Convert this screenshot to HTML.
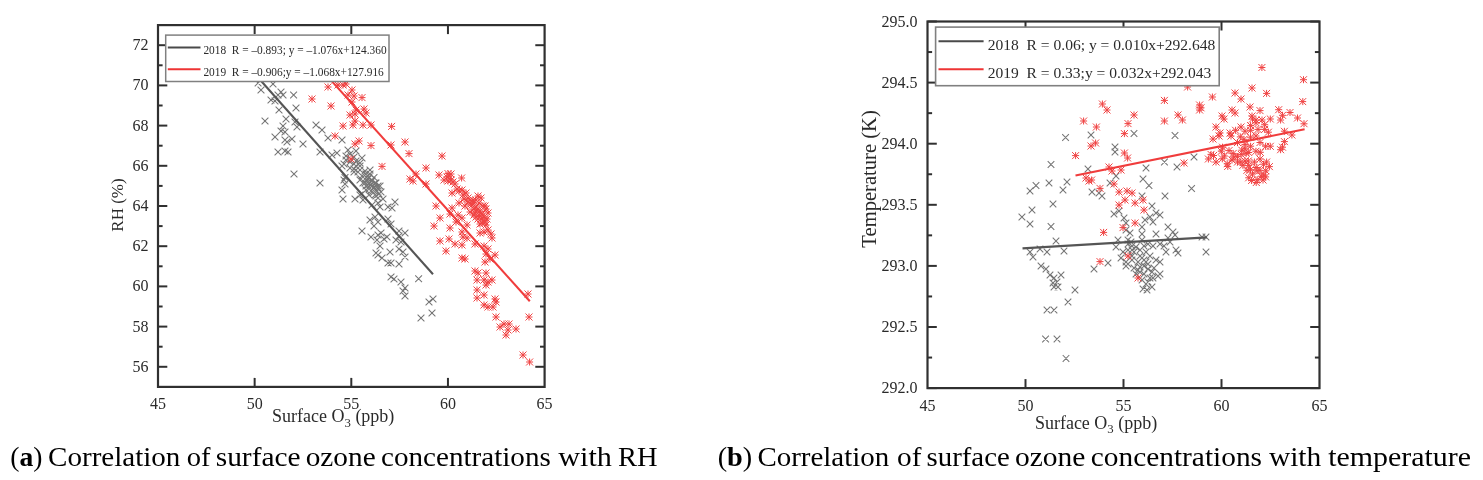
<!DOCTYPE html>
<html><head><meta charset="utf-8"><style>
html,body{margin:0;padding:0;background:#fff;width:1483px;height:480px;overflow:hidden}
svg{display:block;font-family:"Liberation Serif",serif;will-change:transform}
</style></head><body>
<svg width="1483" height="480" viewBox="0 0 1483 480">
<line x1="158" y1="366.80" x2="167.3" y2="366.80" stroke="#303030" stroke-width="2"/>
<line x1="544.6" y1="366.80" x2="535.3000000000001" y2="366.80" stroke="#303030" stroke-width="2"/>
<text x="148.4" y="371.70" text-anchor="end" font-size="16" fill="#2a2a2a">56</text>
<line x1="158" y1="346.70" x2="162.6" y2="346.70" stroke="#303030" stroke-width="2"/>
<line x1="544.6" y1="346.70" x2="540.0" y2="346.70" stroke="#303030" stroke-width="2"/>
<line x1="158" y1="326.60" x2="167.3" y2="326.60" stroke="#303030" stroke-width="2"/>
<line x1="544.6" y1="326.60" x2="535.3000000000001" y2="326.60" stroke="#303030" stroke-width="2"/>
<text x="148.4" y="331.50" text-anchor="end" font-size="16" fill="#2a2a2a">58</text>
<line x1="158" y1="306.50" x2="162.6" y2="306.50" stroke="#303030" stroke-width="2"/>
<line x1="544.6" y1="306.50" x2="540.0" y2="306.50" stroke="#303030" stroke-width="2"/>
<line x1="158" y1="286.40" x2="167.3" y2="286.40" stroke="#303030" stroke-width="2"/>
<line x1="544.6" y1="286.40" x2="535.3000000000001" y2="286.40" stroke="#303030" stroke-width="2"/>
<text x="148.4" y="291.30" text-anchor="end" font-size="16" fill="#2a2a2a">60</text>
<line x1="158" y1="266.30" x2="162.6" y2="266.30" stroke="#303030" stroke-width="2"/>
<line x1="544.6" y1="266.30" x2="540.0" y2="266.30" stroke="#303030" stroke-width="2"/>
<line x1="158" y1="246.20" x2="167.3" y2="246.20" stroke="#303030" stroke-width="2"/>
<line x1="544.6" y1="246.20" x2="535.3000000000001" y2="246.20" stroke="#303030" stroke-width="2"/>
<text x="148.4" y="251.10" text-anchor="end" font-size="16" fill="#2a2a2a">62</text>
<line x1="158" y1="226.10" x2="162.6" y2="226.10" stroke="#303030" stroke-width="2"/>
<line x1="544.6" y1="226.10" x2="540.0" y2="226.10" stroke="#303030" stroke-width="2"/>
<line x1="158" y1="206.00" x2="167.3" y2="206.00" stroke="#303030" stroke-width="2"/>
<line x1="544.6" y1="206.00" x2="535.3000000000001" y2="206.00" stroke="#303030" stroke-width="2"/>
<text x="148.4" y="210.90" text-anchor="end" font-size="16" fill="#2a2a2a">64</text>
<line x1="158" y1="185.90" x2="162.6" y2="185.90" stroke="#303030" stroke-width="2"/>
<line x1="544.6" y1="185.90" x2="540.0" y2="185.90" stroke="#303030" stroke-width="2"/>
<line x1="158" y1="165.80" x2="167.3" y2="165.80" stroke="#303030" stroke-width="2"/>
<line x1="544.6" y1="165.80" x2="535.3000000000001" y2="165.80" stroke="#303030" stroke-width="2"/>
<text x="148.4" y="170.70" text-anchor="end" font-size="16" fill="#2a2a2a">66</text>
<line x1="158" y1="145.70" x2="162.6" y2="145.70" stroke="#303030" stroke-width="2"/>
<line x1="544.6" y1="145.70" x2="540.0" y2="145.70" stroke="#303030" stroke-width="2"/>
<line x1="158" y1="125.60" x2="167.3" y2="125.60" stroke="#303030" stroke-width="2"/>
<line x1="544.6" y1="125.60" x2="535.3000000000001" y2="125.60" stroke="#303030" stroke-width="2"/>
<text x="148.4" y="130.50" text-anchor="end" font-size="16" fill="#2a2a2a">68</text>
<line x1="158" y1="105.50" x2="162.6" y2="105.50" stroke="#303030" stroke-width="2"/>
<line x1="544.6" y1="105.50" x2="540.0" y2="105.50" stroke="#303030" stroke-width="2"/>
<line x1="158" y1="85.40" x2="167.3" y2="85.40" stroke="#303030" stroke-width="2"/>
<line x1="544.6" y1="85.40" x2="535.3000000000001" y2="85.40" stroke="#303030" stroke-width="2"/>
<text x="148.4" y="90.30" text-anchor="end" font-size="16" fill="#2a2a2a">70</text>
<line x1="158" y1="65.30" x2="162.6" y2="65.30" stroke="#303030" stroke-width="2"/>
<line x1="544.6" y1="65.30" x2="540.0" y2="65.30" stroke="#303030" stroke-width="2"/>
<line x1="158" y1="45.20" x2="167.3" y2="45.20" stroke="#303030" stroke-width="2"/>
<line x1="544.6" y1="45.20" x2="535.3000000000001" y2="45.20" stroke="#303030" stroke-width="2"/>
<text x="148.4" y="50.10" text-anchor="end" font-size="16" fill="#2a2a2a">72</text>
<line x1="254.65" y1="386.9" x2="254.65" y2="377.9" stroke="#303030" stroke-width="2"/>
<line x1="254.65" y1="25.1" x2="254.65" y2="34.1" stroke="#303030" stroke-width="2"/>
<line x1="351.30" y1="386.9" x2="351.30" y2="377.9" stroke="#303030" stroke-width="2"/>
<line x1="351.30" y1="25.1" x2="351.30" y2="34.1" stroke="#303030" stroke-width="2"/>
<line x1="447.95" y1="386.9" x2="447.95" y2="377.9" stroke="#303030" stroke-width="2"/>
<line x1="447.95" y1="25.1" x2="447.95" y2="34.1" stroke="#303030" stroke-width="2"/>
<text x="158.00" y="408.8" text-anchor="middle" font-size="16" fill="#2a2a2a">45</text>
<text x="254.65" y="408.8" text-anchor="middle" font-size="16" fill="#2a2a2a">50</text>
<text x="351.30" y="408.5" text-anchor="middle" font-size="16" fill="#2a2a2a">55</text>
<text x="447.95" y="408.8" text-anchor="middle" font-size="16" fill="#2a2a2a">60</text>
<text x="544.60" y="408.8" text-anchor="middle" font-size="16" fill="#2a2a2a">65</text>
<rect x="158" y="25.1" width="386.6" height="361.79999999999995" fill="none" stroke="#303030" stroke-width="2.2"/>
<path d="M257.6 86.7L264.4 93.3M257.6 93.3L264.4 86.7M254.7 79.7L261.4 86.3M254.7 86.3L261.4 79.7M269.6 80.7L276.4 87.3M269.6 87.3L276.4 80.7M277.6 88.7L284.4 95.3M277.6 95.3L284.4 88.7M279.6 91.7L286.4 98.3M279.6 98.3L286.4 91.7M274.6 91.7L281.4 98.3M274.6 98.3L281.4 91.7M290.2 91.7L297.0 98.3M290.2 98.3L297.0 91.7M267.6 96.7L274.4 103.3M267.6 103.3L274.4 96.7M271.6 97.7L278.4 104.3M271.6 104.3L278.4 97.7M292.6 104.7L299.4 111.3M292.6 111.3L299.4 104.7M275.6 106.7L282.4 113.3M275.6 113.3L282.4 106.7M261.6 117.7L268.4 124.3M261.6 124.3L268.4 117.7M282.6 115.7L289.4 122.3M282.6 122.3L289.4 115.7M291.6 118.7L298.4 125.3M291.6 125.3L298.4 118.7M293.6 123.7L300.4 130.3M293.6 130.3L300.4 123.7M279.6 122.7L286.4 129.3M279.6 129.3L286.4 122.7M277.6 127.7L284.4 134.3M277.6 134.3L284.4 127.7M281.6 128.7L288.4 135.3M281.6 135.3L288.4 128.7M271.6 133.7L278.4 140.3M271.6 140.3L278.4 133.7M281.6 136.7L288.4 143.3M281.6 143.3L288.4 136.7M288.6 135.7L295.4 142.3M288.6 142.3L295.4 135.7M283.6 138.7L290.4 145.3M283.6 145.3L290.4 138.7M299.6 140.7L306.4 147.3M299.6 147.3L306.4 140.7M312.6 121.7L319.4 128.3M312.6 128.3L319.4 121.7M318.6 126.7L325.4 133.3M318.6 133.3L325.4 126.7M324.6 134.7L331.4 141.3M324.6 141.3L331.4 134.7M338.6 136.7L345.4 143.3M338.6 143.3L345.4 136.7M274.6 148.7L281.4 155.3M274.6 155.3L281.4 148.7M281.6 147.7L288.4 154.3M281.6 154.3L288.4 147.7M284.6 148.7L291.4 155.3M284.6 155.3L291.4 148.7M316.6 148.7L323.4 155.3M316.6 155.3L323.4 148.7M328.6 151.7L335.4 158.3M328.6 158.3L335.4 151.7M333.6 149.7L340.4 156.3M333.6 156.3L340.4 149.7M344.6 146.7L351.4 153.3M344.6 153.3L351.4 146.7M342.6 152.7L349.4 159.3M342.6 159.3L349.4 152.7M346.6 158.7L353.4 165.3M346.6 165.3L353.4 158.7M350.6 153.7L357.4 160.3M350.6 160.3L357.4 153.7M340.6 160.7L347.4 167.3M340.6 167.3L347.4 160.7M346.6 164.7L353.4 171.3M346.6 171.3L353.4 164.7M352.6 162.7L359.4 169.3M352.6 169.3L359.4 162.7M290.6 170.7L297.4 177.3M290.6 177.3L297.4 170.7M350.6 168.7L357.4 175.3M350.6 175.3L357.4 168.7M352.6 147.7L359.4 154.3M352.6 154.3L359.4 147.7M342.6 156.7L349.4 163.3M342.6 163.3L349.4 156.7M358.6 154.7L365.4 161.3M358.6 161.3L365.4 154.7M350.6 160.7L357.4 167.3M350.6 167.3L357.4 160.7M356.6 162.7L363.4 169.3M356.6 169.3L363.4 162.7M354.6 168.7L361.4 175.3M354.6 175.3L361.4 168.7M361.6 167.7L368.4 174.3M361.6 174.3L368.4 167.7M366.6 170.7L373.4 177.3M366.6 177.3L373.4 170.7M338.6 162.7L345.4 169.3M338.6 169.3L345.4 162.7M356.6 159.7L363.4 166.3M356.6 166.3L363.4 159.7M356.6 166.7L363.4 173.3M356.6 173.3L363.4 166.7M359.6 173.7L366.4 180.3M359.6 180.3L366.4 173.7M364.6 175.7L371.4 182.3M364.6 182.3L371.4 175.7M368.6 177.7L375.4 184.3M368.6 184.3L375.4 177.7M372.6 179.7L379.4 186.3M372.6 186.3L379.4 179.7M361.6 179.7L368.4 186.3M361.6 186.3L368.4 179.7M366.6 181.7L373.4 188.3M366.6 188.3L373.4 181.7M370.6 183.7L377.4 190.3M370.6 190.3L377.4 183.7M374.6 184.7L381.4 191.3M374.6 191.3L381.4 184.7M340.6 176.7L347.4 183.3M340.6 183.3L347.4 176.7M341.6 180.7L348.4 187.3M341.6 187.3L348.4 180.7M338.6 186.7L345.4 193.3M338.6 193.3L345.4 186.7M339.6 195.7L346.4 202.3M339.6 202.3L346.4 195.7M351.6 195.7L358.4 202.3M351.6 202.3L358.4 195.7M316.6 179.7L323.4 186.3M316.6 186.3L323.4 179.7M359.6 196.7L366.4 203.3M359.6 203.3L366.4 196.7M365.6 191.7L372.4 198.3M365.6 198.3L372.4 191.7M369.6 189.7L376.4 196.3M369.6 196.3L376.4 189.7M372.6 192.7L379.4 199.3M372.6 199.3L379.4 192.7M374.6 199.7L381.4 206.3M374.6 206.3L381.4 199.7M368.6 201.7L375.4 208.3M368.6 208.3L375.4 201.7M379.6 195.7L386.4 202.3M379.6 202.3L386.4 195.7M384.6 203.7L391.4 210.3M384.6 210.3L391.4 203.7M391.6 198.7L398.4 205.3M391.6 205.3L398.4 198.7M388.6 204.7L395.4 211.3M388.6 211.3L395.4 204.7M376.6 203.7L383.4 210.3M376.6 210.3L383.4 203.7M366.6 216.7L373.4 223.3M366.6 223.3L373.4 216.7M371.6 213.7L378.4 220.3M371.6 220.3L378.4 213.7M374.6 218.7L381.4 225.3M374.6 225.3L381.4 218.7M384.6 215.7L391.4 222.3M384.6 222.3L391.4 215.7M387.6 220.7L394.4 227.3M387.6 227.3L394.4 220.7M370.6 222.7L377.4 229.3M370.6 229.3L377.4 222.7M358.6 227.7L365.4 234.3M358.6 234.3L365.4 227.7M367.6 233.7L374.4 240.3M367.6 240.3L374.4 233.7M374.6 231.7L381.4 238.3M374.6 238.3L381.4 231.7M377.6 229.7L384.4 236.3M377.6 236.3L384.4 229.7M380.6 235.7L387.4 242.3M380.6 242.3L387.4 235.7M373.6 236.7L380.4 243.3M373.6 243.3L380.4 236.7M383.6 233.7L390.4 240.3M383.6 240.3L390.4 233.7M395.6 227.7L402.4 234.3M395.6 234.3L402.4 227.7M401.6 229.7L408.4 236.3M401.6 236.3L408.4 229.7M395.6 232.7L402.4 239.3M395.6 239.3L402.4 232.7M392.6 236.7L399.4 243.3M392.6 243.3L399.4 236.7M397.6 238.7L404.4 245.3M397.6 245.3L404.4 238.7M376.6 242.7L383.4 249.3M376.6 249.3L383.4 242.7M386.6 248.7L393.4 255.3M386.6 255.3L393.4 248.7M395.6 245.7L402.4 252.3M395.6 252.3L402.4 245.7M399.6 248.7L406.4 255.3M399.6 255.3L406.4 248.7M372.6 249.7L379.4 256.4M372.6 256.4L379.4 249.7M374.6 251.7L381.4 258.4M374.6 258.4L381.4 251.7M378.6 254.7L385.4 261.4M378.6 261.4L385.4 254.7M401.6 253.7L408.4 260.4M401.6 260.4L408.4 253.7M384.6 259.6L391.4 266.4M384.6 266.4L391.4 259.6M387.6 259.6L394.4 266.4M387.6 266.4L394.4 259.6M395.6 260.6L402.4 267.4M395.6 267.4L402.4 260.6M387.6 273.6L394.4 280.4M387.6 280.4L394.4 273.6M390.6 275.6L397.4 282.4M390.6 282.4L397.4 275.6M397.6 278.6L404.4 285.4M397.6 285.4L404.4 278.6M401.6 284.6L408.4 291.4M401.6 291.4L408.4 284.6M399.6 287.6L406.4 294.4M399.6 294.4L406.4 287.6M401.6 292.6L408.4 299.4M401.6 299.4L408.4 292.6M415.2 275.4L422.0 282.2M415.2 282.2L422.0 275.4M425.6 298.6L432.4 305.4M425.6 305.4L432.4 298.6M429.6 295.6L436.4 302.4M429.6 302.4L436.4 295.6M428.6 309.6L435.4 316.4M428.6 316.4L435.4 309.6M417.6 314.6L424.4 321.4M417.6 321.4L424.4 314.6M346.6 150.7L353.4 157.3M346.6 157.3L353.4 150.7M352.6 157.7L359.4 164.3M352.6 164.3L359.4 157.7M350.6 165.7L357.4 172.3M350.6 172.3L357.4 165.7M366.6 166.7L373.4 173.3M366.6 173.3L373.4 166.7M364.1 172.7L370.9 179.3M364.1 179.3L370.9 172.7M370.6 174.2L377.4 180.8M370.6 180.8L377.4 174.2M357.6 175.7L364.4 182.3M357.6 182.3L364.4 175.7M364.1 182.2L370.9 188.9M364.1 188.9L370.9 182.2M376.6 182.7L383.4 189.3M376.6 189.3L383.4 182.7M362.6 186.7L369.4 193.3M362.6 193.3L369.4 186.7M367.6 187.7L374.4 194.3M367.6 194.3L374.4 187.7M375.6 190.7L382.4 197.3M375.6 197.3L382.4 190.7M356.6 191.7L363.4 198.3M356.6 198.3L363.4 191.7M341.6 174.2L348.4 180.8M341.6 180.8L348.4 174.2M358.6 172.7L365.4 179.3M358.6 179.3L365.4 172.7M361.6 175.7L368.4 182.3M361.6 182.3L368.4 175.7M364.6 178.7L371.4 185.3M364.6 185.3L371.4 178.7M367.6 181.7L374.4 188.3M367.6 188.3L374.4 181.7M370.6 184.7L377.4 191.3M370.6 191.3L377.4 184.7M373.6 187.7L380.4 194.3M373.6 194.3L380.4 187.7M362.6 170.7L369.4 177.3M362.6 177.3L369.4 170.7M365.6 173.7L372.4 180.3M365.6 180.3L372.4 173.7M368.6 176.7L375.4 183.3M368.6 183.3L375.4 176.7M371.6 179.7L378.4 186.3M371.6 186.3L378.4 179.7M374.6 182.7L381.4 189.3M374.6 189.3L381.4 182.7M356.6 176.7L363.4 183.3M356.6 183.3L363.4 176.7M359.6 179.7L366.4 186.3M359.6 186.3L366.4 179.7M362.6 182.7L369.4 189.3M362.6 189.3L369.4 182.7M365.6 185.7L372.4 192.3M365.6 192.3L372.4 185.7M368.6 188.7L375.4 195.3M368.6 195.3L375.4 188.7M371.6 191.7L378.4 198.3M371.6 198.3L378.4 191.7M374.6 194.7L381.4 201.3M374.6 201.3L381.4 194.7M377.6 188.7L384.4 195.3M377.6 195.3L384.4 188.7M354.6 168.7L361.4 175.3M354.6 175.3L361.4 168.7" fill="none" stroke="#767676" stroke-width="1.05"/>
<path d="M308.5 95.5L315.5 102.5M308.5 102.5L315.5 95.5M308.5 99.0L315.5 99.0M312.0 95.5L312.0 102.5M327.5 102.5L334.5 109.5M327.5 109.5L334.5 102.5M327.5 106.0L334.5 106.0M331.0 102.5L331.0 109.5M324.5 83.5L331.5 90.5M324.5 90.5L331.5 83.5M324.5 87.0L331.5 87.0M328.0 83.5L328.0 90.5M334.5 81.5L341.5 88.5M334.5 88.5L341.5 81.5M334.5 85.0L341.5 85.0M338.0 81.5L338.0 88.5M339.5 81.5L346.5 88.5M339.5 88.5L346.5 81.5M339.5 85.0L346.5 85.0M343.0 81.5L343.0 88.5M348.5 86.5L355.5 93.5M348.5 93.5L355.5 86.5M348.5 90.0L355.5 90.0M352.0 86.5L352.0 93.5M344.5 91.5L351.5 98.5M344.5 98.5L351.5 91.5M344.5 95.0L351.5 95.0M348.0 91.5L348.0 98.5M350.5 92.5L357.5 99.5M350.5 99.5L357.5 92.5M350.5 96.0L357.5 96.0M354.0 92.5L354.0 99.5M346.5 111.5L353.5 118.5M346.5 118.5L353.5 111.5M346.5 115.0L353.5 115.0M350.0 111.5L350.0 118.5M351.5 110.5L358.5 117.5M351.5 117.5L358.5 110.5M351.5 114.0L358.5 114.0M355.0 110.5L355.0 117.5M339.5 122.5L346.5 129.5M339.5 129.5L346.5 122.5M339.5 126.0L346.5 126.0M343.0 122.5L343.0 129.5M349.5 121.5L356.5 128.5M349.5 128.5L356.5 121.5M349.5 125.0L356.5 125.0M353.0 121.5L353.0 128.5M351.5 117.5L358.5 124.5M351.5 124.5L358.5 117.5M351.5 121.0L358.5 121.0M355.0 117.5L355.0 124.5M331.5 132.5L338.5 139.5M331.5 139.5L338.5 132.5M331.5 136.0L338.5 136.0M335.0 132.5L335.0 139.5M351.5 140.5L358.5 147.5M351.5 147.5L358.5 140.5M351.5 144.0L358.5 144.0M355.0 140.5L355.0 147.5M347.5 155.5L354.5 162.5M347.5 162.5L354.5 155.5M347.5 159.0L354.5 159.0M351.0 155.5L351.0 162.5M342.5 80.5L349.5 87.5M342.5 87.5L349.5 80.5M342.5 84.0L349.5 84.0M346.0 80.5L346.0 87.5M358.5 94.1L365.5 101.1M358.5 101.1L365.5 94.1M358.5 97.6L365.5 97.6M362.0 94.1L362.0 101.1M348.5 98.5L355.5 105.5M348.5 105.5L355.5 98.5M348.5 102.0L355.5 102.0M352.0 98.5L352.0 105.5M360.5 105.5L367.5 112.5M360.5 112.5L367.5 105.5M360.5 109.0L367.5 109.0M364.0 105.5L364.0 112.5M362.5 109.5L369.5 116.5M362.5 116.5L369.5 109.5M362.5 113.0L369.5 113.0M366.0 109.5L366.0 116.5M352.5 106.5L359.5 113.5M352.5 113.5L359.5 106.5M352.5 110.0L359.5 110.0M356.0 106.5L356.0 113.5M359.5 121.5L366.5 128.5M359.5 128.5L366.5 121.5M359.5 125.0L366.5 125.0M363.0 121.5L363.0 128.5M367.5 121.5L374.5 128.5M367.5 128.5L374.5 121.5M367.5 125.0L374.5 125.0M371.0 121.5L371.0 128.5M388.1 122.9L395.1 129.9M388.1 129.9L395.1 122.9M388.1 126.4L395.1 126.4M391.6 122.9L391.6 129.9M355.5 137.5L362.5 144.5M355.5 144.5L362.5 137.5M355.5 141.0L362.5 141.0M359.0 137.5L359.0 144.5M367.5 142.1L374.5 149.1M367.5 149.1L374.5 142.1M367.5 145.6L374.5 145.6M371.0 142.1L371.0 149.1M387.5 141.5L394.5 148.5M387.5 148.5L394.5 141.5M387.5 145.0L394.5 145.0M391.0 141.5L391.0 148.5M401.5 138.5L408.5 145.5M401.5 145.5L408.5 138.5M401.5 142.0L408.5 142.0M405.0 138.5L405.0 145.5M405.5 150.1L412.5 157.1M405.5 157.1L412.5 150.1M405.5 153.6L412.5 153.6M409.0 150.1L409.0 157.1M438.5 152.5L445.5 159.5M438.5 159.5L445.5 152.5M438.5 156.0L445.5 156.0M442.0 152.5L442.0 159.5M378.5 162.9L385.5 169.9M378.5 169.9L385.5 162.9M378.5 166.4L385.5 166.4M382.0 162.9L382.0 169.9M422.5 164.5L429.5 171.5M422.5 171.5L429.5 164.5M422.5 168.0L429.5 168.0M426.0 164.5L426.0 171.5M412.5 170.5L419.5 177.5M412.5 177.5L419.5 170.5M412.5 174.0L419.5 174.0M416.0 170.5L416.0 177.5M435.5 171.5L442.5 178.5M435.5 178.5L442.5 171.5M435.5 175.0L442.5 175.0M439.0 171.5L439.0 178.5M444.5 170.1L451.5 177.1M444.5 177.1L451.5 170.1M444.5 173.6L451.5 173.6M448.0 170.1L448.0 177.1M422.5 180.5L429.5 187.5M422.5 187.5L429.5 180.5M422.5 184.0L429.5 184.0M426.0 180.5L426.0 187.5M445.5 172.5L452.5 179.5M445.5 179.5L452.5 172.5M445.5 176.0L452.5 176.0M449.0 172.5L449.0 179.5M447.5 176.5L454.5 183.5M447.5 183.5L454.5 176.5M447.5 180.0L454.5 180.0M451.0 176.5L451.0 183.5M444.5 177.5L451.5 184.5M444.5 184.5L451.5 177.5M444.5 181.0L451.5 181.0M448.0 177.5L448.0 184.5M449.5 178.5L456.5 185.5M449.5 185.5L456.5 178.5M449.5 182.0L456.5 182.0M453.0 178.5L453.0 185.5M458.1 174.5L465.1 181.5M458.1 181.5L465.1 174.5M458.1 178.0L465.1 178.0M461.6 174.5L461.6 181.5M453.5 185.5L460.5 192.5M453.5 192.5L460.5 185.5M453.5 189.0L460.5 189.0M457.0 185.5L457.0 192.5M455.5 187.5L462.5 194.5M455.5 194.5L462.5 187.5M455.5 191.0L462.5 191.0M459.0 187.5L459.0 194.5M448.5 189.5L455.5 196.5M448.5 196.5L455.5 189.5M448.5 193.0L455.5 193.0M452.0 189.5L452.0 196.5M459.5 191.5L466.5 198.5M459.5 198.5L466.5 191.5M459.5 195.0L466.5 195.0M463.0 191.5L463.0 198.5M460.5 195.5L467.5 202.5M460.5 202.5L467.5 195.5M460.5 199.0L467.5 199.0M464.0 195.5L464.0 202.5M455.5 199.5L462.5 206.5M455.5 206.5L462.5 199.5M455.5 203.0L462.5 203.0M459.0 199.5L459.0 206.5M464.5 198.5L471.5 205.5M464.5 205.5L471.5 198.5M464.5 202.0L471.5 202.0M468.0 198.5L468.0 205.5M467.5 200.5L474.5 207.5M467.5 207.5L474.5 200.5M467.5 204.0L474.5 204.0M471.0 200.5L471.0 207.5M468.5 197.5L475.5 204.5M468.5 204.5L475.5 197.5M468.5 201.0L475.5 201.0M472.0 197.5L472.0 204.5M461.5 202.5L468.5 209.5M461.5 209.5L468.5 202.5M461.5 206.0L468.5 206.0M465.0 202.5L465.0 209.5M470.5 205.5L477.5 212.5M470.5 212.5L477.5 205.5M470.5 209.0L477.5 209.0M474.0 205.5L474.0 212.5M473.5 206.5L480.5 213.5M473.5 213.5L480.5 206.5M473.5 210.0L480.5 210.0M477.0 206.5L477.0 213.5M471.5 209.5L478.5 216.5M471.5 216.5L478.5 209.5M471.5 213.0L478.5 213.0M475.0 209.5L475.0 216.5M475.5 211.5L482.5 218.5M475.5 218.5L482.5 211.5M475.5 215.0L482.5 215.0M479.0 211.5L479.0 218.5M472.5 213.5L479.5 220.5M472.5 220.5L479.5 213.5M472.5 217.0L479.5 217.0M476.0 213.5L476.0 220.5M477.5 215.5L484.5 222.5M477.5 222.5L484.5 215.5M477.5 219.0L484.5 219.0M481.0 215.5L481.0 222.5M480.5 213.5L487.5 220.5M480.5 220.5L487.5 213.5M480.5 217.0L487.5 217.0M484.0 213.5L484.0 220.5M481.5 202.5L488.5 209.5M481.5 209.5L488.5 202.5M481.5 206.0L488.5 206.0M485.0 202.5L485.0 209.5M483.5 215.5L490.5 222.5M483.5 222.5L490.5 215.5M483.5 219.0L490.5 219.0M487.0 215.5L487.0 222.5M478.5 219.5L485.5 226.5M478.5 226.5L485.5 219.5M478.5 223.0L485.5 223.0M482.0 219.5L482.0 226.5M482.5 221.5L489.5 228.5M482.5 228.5L489.5 221.5M482.5 225.0L489.5 225.0M486.0 221.5L486.0 228.5M484.5 226.5L491.5 233.5M484.5 233.5L491.5 226.5M484.5 230.0L491.5 230.0M488.0 226.5L488.0 233.5M480.5 228.5L487.5 235.5M480.5 235.5L487.5 228.5M480.5 232.0L487.5 232.0M484.0 228.5L484.0 235.5M487.5 230.5L494.5 237.5M487.5 237.5L494.5 230.5M487.5 234.0L494.5 234.0M491.0 230.5L491.0 237.5M432.5 202.5L439.5 209.5M432.5 209.5L439.5 202.5M432.5 206.0L439.5 206.0M436.0 202.5L436.0 209.5M436.5 214.5L443.5 221.5M436.5 221.5L443.5 214.5M436.5 218.0L443.5 218.0M440.0 214.5L440.0 221.5M430.5 222.5L437.5 229.5M430.5 229.5L437.5 222.5M430.5 226.0L437.5 226.0M434.0 222.5L434.0 229.5M446.5 224.5L453.5 231.5M446.5 231.5L453.5 224.5M446.5 228.0L453.5 228.0M450.0 224.5L450.0 231.5M448.5 204.5L455.5 211.5M448.5 211.5L455.5 204.5M448.5 208.0L455.5 208.0M452.0 204.5L452.0 211.5M454.5 211.5L461.5 218.5M454.5 218.5L461.5 211.5M454.5 215.0L461.5 215.0M458.0 211.5L458.0 218.5M458.5 214.5L465.5 221.5M458.5 221.5L465.5 214.5M458.5 218.0L465.5 218.0M462.0 214.5L462.0 221.5M463.5 221.5L470.5 228.5M463.5 228.5L470.5 221.5M463.5 225.0L470.5 225.0M467.0 221.5L467.0 228.5M458.5 228.5L465.5 235.5M458.5 235.5L465.5 228.5M458.5 232.0L465.5 232.0M462.0 228.5L462.0 235.5M452.5 218.5L459.5 225.5M452.5 225.5L459.5 218.5M452.5 222.0L459.5 222.0M456.0 218.5L456.0 225.5M446.5 210.5L453.5 217.5M446.5 217.5L453.5 210.5M446.5 214.0L453.5 214.0M450.0 210.5L450.0 217.5M436.5 237.5L443.5 244.5M436.5 244.5L443.5 237.5M436.5 241.0L443.5 241.0M440.0 237.5L440.0 244.5M445.5 235.5L452.5 242.5M445.5 242.5L452.5 235.5M445.5 239.0L452.5 239.0M449.0 235.5L449.0 242.5M451.5 240.5L458.5 247.5M451.5 247.5L458.5 240.5M451.5 244.0L458.5 244.0M455.0 240.5L455.0 247.5M442.5 247.5L449.5 254.5M442.5 254.5L449.5 247.5M442.5 251.0L449.5 251.0M446.0 247.5L446.0 254.5M458.5 241.5L465.5 248.5M458.5 248.5L465.5 241.5M458.5 245.0L465.5 245.0M462.0 241.5L462.0 248.5M459.5 233.5L466.5 240.5M459.5 240.5L466.5 233.5M459.5 237.0L466.5 237.0M463.0 233.5L463.0 240.5M463.5 234.5L470.5 241.5M463.5 241.5L470.5 234.5M463.5 238.0L470.5 238.0M467.0 234.5L467.0 241.5M476.5 229.5L483.5 236.5M476.5 236.5L483.5 229.5M476.5 233.0L483.5 233.0M480.0 229.5L480.0 236.5M488.5 234.5L495.5 241.5M488.5 241.5L495.5 234.5M488.5 238.0L495.5 238.0M492.0 234.5L492.0 241.5M471.5 240.5L478.5 247.5M471.5 247.5L478.5 240.5M471.5 244.0L478.5 244.0M475.0 240.5L475.0 247.5M480.5 242.5L487.5 249.5M480.5 249.5L487.5 242.5M480.5 246.0L487.5 246.0M484.0 242.5L484.0 249.5M484.5 245.5L491.5 252.5M484.5 252.5L491.5 245.5M484.5 249.0L491.5 249.0M488.0 245.5L488.0 252.5M482.5 250.5L489.5 257.5M482.5 257.5L489.5 250.5M482.5 254.0L489.5 254.0M486.0 250.5L486.0 257.5M491.5 251.5L498.5 258.5M491.5 258.5L498.5 251.5M491.5 255.0L498.5 255.0M495.0 251.5L495.0 258.5M486.5 255.5L493.5 262.5M486.5 262.5L493.5 255.5M486.5 259.0L493.5 259.0M490.0 255.5L490.0 262.5M481.5 258.5L488.5 265.5M481.5 265.5L488.5 258.5M481.5 262.0L488.5 262.0M485.0 258.5L485.0 265.5M458.5 254.5L465.5 261.5M458.5 261.5L465.5 254.5M458.5 258.0L465.5 258.0M462.0 254.5L462.0 261.5M461.5 255.5L468.5 262.5M461.5 262.5L468.5 255.5M461.5 259.0L468.5 259.0M465.0 255.5L465.0 262.5M471.5 267.5L478.5 274.5M471.5 274.5L478.5 267.5M471.5 271.0L478.5 271.0M475.0 267.5L475.0 274.5M474.5 269.5L481.5 276.5M474.5 276.5L481.5 269.5M474.5 273.0L481.5 273.0M478.0 269.5L478.0 276.5M482.5 269.5L489.5 276.5M482.5 276.5L489.5 269.5M482.5 273.0L489.5 273.0M486.0 269.5L486.0 276.5M473.5 276.5L480.5 283.5M473.5 283.5L480.5 276.5M473.5 280.0L480.5 280.0M477.0 276.5L477.0 283.5M480.5 276.5L487.5 283.5M480.5 283.5L487.5 276.5M480.5 280.0L487.5 280.0M484.0 276.5L484.0 283.5M484.5 278.5L491.5 285.5M484.5 285.5L491.5 278.5M484.5 282.0L491.5 282.0M488.0 278.5L488.0 285.5M488.5 276.5L495.5 283.5M488.5 283.5L495.5 276.5M488.5 280.0L495.5 280.0M492.0 276.5L492.0 283.5M482.5 281.5L489.5 288.5M482.5 288.5L489.5 281.5M482.5 285.0L489.5 285.0M486.0 281.5L486.0 288.5M473.5 286.5L480.5 293.5M473.5 293.5L480.5 286.5M473.5 290.0L480.5 290.0M477.0 286.5L477.0 293.5M480.5 291.5L487.5 298.5M480.5 298.5L487.5 291.5M480.5 295.0L487.5 295.0M484.0 291.5L484.0 298.5M473.5 294.5L480.5 301.5M473.5 301.5L480.5 294.5M473.5 298.0L480.5 298.0M477.0 294.5L477.0 301.5M491.5 295.5L498.5 302.5M491.5 302.5L498.5 295.5M491.5 299.0L498.5 299.0M495.0 295.5L495.0 302.5M492.5 298.5L499.5 305.5M492.5 305.5L499.5 298.5M492.5 302.0L499.5 302.0M496.0 298.5L496.0 305.5M480.5 301.5L487.5 308.5M480.5 308.5L487.5 301.5M480.5 305.0L487.5 305.0M484.0 301.5L484.0 308.5M484.5 303.5L491.5 310.5M484.5 310.5L491.5 303.5M484.5 307.0L491.5 307.0M488.0 303.5L488.0 310.5M489.5 303.5L496.5 310.5M489.5 310.5L496.5 303.5M489.5 307.0L496.5 307.0M493.0 303.5L493.0 310.5M492.5 313.5L499.5 320.5M492.5 320.5L499.5 313.5M492.5 317.0L499.5 317.0M496.0 313.5L496.0 320.5M500.5 320.5L507.5 327.5M500.5 327.5L507.5 320.5M500.5 324.0L507.5 324.0M504.0 320.5L504.0 327.5M505.5 320.5L512.5 327.5M505.5 327.5L512.5 320.5M505.5 324.0L512.5 324.0M509.0 320.5L509.0 327.5M524.5 290.5L531.5 297.5M524.5 297.5L531.5 290.5M524.5 294.0L531.5 294.0M528.0 290.5L528.0 297.5M525.5 313.5L532.5 320.5M525.5 320.5L532.5 313.5M525.5 317.0L532.5 317.0M529.0 313.5L529.0 320.5M496.5 323.5L503.5 330.5M496.5 330.5L503.5 323.5M496.5 327.0L503.5 327.0M500.0 323.5L500.0 330.5M504.5 326.5L511.5 333.5M504.5 333.5L511.5 326.5M504.5 330.0L511.5 330.0M508.0 326.5L508.0 333.5M502.5 331.5L509.5 338.5M502.5 338.5L509.5 331.5M502.5 335.0L509.5 335.0M506.0 331.5L506.0 338.5M512.5 325.5L519.5 332.5M512.5 332.5L519.5 325.5M512.5 329.0L519.5 329.0M516.0 325.5L516.0 332.5M519.5 351.5L526.5 358.5M519.5 358.5L526.5 351.5M519.5 355.0L526.5 355.0M523.0 351.5L523.0 358.5M526.1 358.5L533.1 365.5M526.1 365.5L533.1 358.5M526.1 362.0L533.1 362.0M529.6 358.5L529.6 365.5M409.5 177.5L416.5 184.5M409.5 184.5L416.5 177.5M409.5 181.0L416.5 181.0M413.0 177.5L413.0 184.5M406.5 175.5L413.5 182.5M406.5 182.5L413.5 175.5M406.5 179.0L413.5 179.0M410.0 175.5L410.0 182.5M468.5 201.5L475.5 208.5M468.5 208.5L475.5 201.5M468.5 205.0L475.5 205.0M472.0 201.5L472.0 208.5M472.5 203.5L479.5 210.5M472.5 210.5L479.5 203.5M472.5 207.0L479.5 207.0M476.0 203.5L476.0 210.5M476.5 207.5L483.5 214.5M476.5 214.5L483.5 207.5M476.5 211.0L483.5 211.0M480.0 207.5L480.0 214.5M470.5 211.5L477.5 218.5M470.5 218.5L477.5 211.5M470.5 215.0L477.5 215.0M474.0 211.5L474.0 218.5M474.5 215.5L481.5 222.5M474.5 222.5L481.5 215.5M474.5 219.0L481.5 219.0M478.0 215.5L478.0 222.5M478.5 210.5L485.5 217.5M478.5 217.5L485.5 210.5M478.5 214.0L485.5 214.0M482.0 210.5L482.0 217.5M466.5 208.5L473.5 215.5M466.5 215.5L473.5 208.5M466.5 212.0L473.5 212.0M470.0 208.5L470.0 215.5M481.5 218.5L488.5 225.5M481.5 225.5L488.5 218.5M481.5 222.0L488.5 222.0M485.0 218.5L485.0 225.5M476.5 220.5L483.5 227.5M476.5 227.5L483.5 220.5M476.5 224.0L483.5 224.0M480.0 220.5L480.0 227.5M464.5 194.5L471.5 201.5M464.5 201.5L471.5 194.5M464.5 198.0L471.5 198.0M468.0 194.5L468.0 201.5M469.5 196.5L476.5 203.5M469.5 203.5L476.5 196.5M469.5 200.0L476.5 200.0M473.0 196.5L473.0 203.5M443.5 173.5L450.5 180.5M443.5 180.5L450.5 173.5M443.5 177.0L450.5 177.0M447.0 173.5L447.0 180.5M447.5 170.5L454.5 177.5M447.5 177.5L454.5 170.5M447.5 174.0L454.5 174.0M451.0 170.5L451.0 177.5M451.5 180.5L458.5 187.5M451.5 187.5L458.5 180.5M451.5 184.0L458.5 184.0M455.0 180.5L455.0 187.5M440.5 176.5L447.5 183.5M440.5 183.5L447.5 176.5M440.5 180.0L447.5 180.0M444.0 176.5L444.0 183.5M458.5 186.5L465.5 193.5M458.5 193.5L465.5 186.5M458.5 190.0L465.5 190.0M462.0 186.5L462.0 193.5M462.5 189.5L469.5 196.5M462.5 196.5L469.5 189.5M462.5 193.0L469.5 193.0M466.0 189.5L466.0 196.5M472.5 196.5L479.5 203.5M472.5 203.5L479.5 196.5M472.5 200.0L479.5 200.0M476.0 196.5L476.0 203.5M475.5 199.5L482.5 206.5M475.5 206.5L482.5 199.5M475.5 203.0L482.5 203.0M479.0 199.5L479.0 206.5M479.5 202.5L486.5 209.5M479.5 209.5L486.5 202.5M479.5 206.0L486.5 206.0M483.0 202.5L483.0 209.5M482.5 205.5L489.5 212.5M482.5 212.5L489.5 205.5M482.5 209.0L489.5 209.0M486.0 205.5L486.0 212.5M477.5 194.5L484.5 201.5M477.5 201.5L484.5 194.5M477.5 198.0L484.5 198.0M481.0 194.5L481.0 201.5M484.5 209.5L491.5 216.5M484.5 216.5L491.5 209.5M484.5 213.0L491.5 213.0M488.0 209.5L488.0 216.5M480.5 213.5L487.5 220.5M480.5 220.5L487.5 213.5M480.5 217.0L487.5 217.0M484.0 213.5L484.0 220.5M474.5 192.5L481.5 199.5M474.5 199.5L481.5 192.5M474.5 196.0L481.5 196.0M478.0 192.5L478.0 199.5" fill="none" stroke="#f04444" stroke-width="1.0"/>
<line x1="255.8" y1="75.0" x2="433.0" y2="274.3" stroke="#555" stroke-width="2.1"/>
<line x1="326.8" y1="75.6" x2="529.8" y2="301.2" stroke="#f03c3c" stroke-width="2.1"/>
<rect x="165.7" y="35.1" width="223.3" height="46.4" fill="#fff" stroke="#808080" stroke-width="1.5"/>
<line x1="167.8" y1="47.5" x2="200.5" y2="47.5" stroke="#4a4a4a" stroke-width="2"/>
<line x1="167.8" y1="69.3" x2="200.5" y2="69.3" stroke="#ee3434" stroke-width="2"/>
<text x="203.4" y="54" font-size="12.3" fill="#2a2a2a" textLength="183.2" lengthAdjust="spacingAndGlyphs" xml:space="preserve">2018  R = –0.893; y = –1.076x+124.360</text>
<text x="203.4" y="75.8" font-size="12.3" fill="#2a2a2a" textLength="180.4" lengthAdjust="spacingAndGlyphs" xml:space="preserve">2019  R = –0.906;y = –1.068x+127.916</text>
<text x="272" y="422.4" font-size="18" fill="#2a2a2a">Surface O<tspan font-size="12.8" dy="4.4">3</tspan><tspan dy="-4.4"> (ppb)</tspan></text>
<text transform="translate(123.3,205) rotate(-90)" text-anchor="middle" font-size="17" fill="#2a2a2a">RH (%)</text>
<line x1="927.5" y1="388.10" x2="936.8" y2="388.10" stroke="#303030" stroke-width="2"/>
<line x1="1319.5" y1="388.10" x2="1310.2" y2="388.10" stroke="#303030" stroke-width="2"/>
<text x="917.6" y="393.20" text-anchor="end" font-size="16" fill="#2a2a2a">292.0</text>
<line x1="927.5" y1="357.55" x2="932.1" y2="357.55" stroke="#303030" stroke-width="2"/>
<line x1="1319.5" y1="357.55" x2="1314.9" y2="357.55" stroke="#303030" stroke-width="2"/>
<line x1="927.5" y1="327.00" x2="936.8" y2="327.00" stroke="#303030" stroke-width="2"/>
<line x1="1319.5" y1="327.00" x2="1310.2" y2="327.00" stroke="#303030" stroke-width="2"/>
<text x="917.6" y="332.10" text-anchor="end" font-size="16" fill="#2a2a2a">292.5</text>
<line x1="927.5" y1="296.45" x2="932.1" y2="296.45" stroke="#303030" stroke-width="2"/>
<line x1="1319.5" y1="296.45" x2="1314.9" y2="296.45" stroke="#303030" stroke-width="2"/>
<line x1="927.5" y1="265.90" x2="936.8" y2="265.90" stroke="#303030" stroke-width="2"/>
<line x1="1319.5" y1="265.90" x2="1310.2" y2="265.90" stroke="#303030" stroke-width="2"/>
<text x="917.6" y="271.00" text-anchor="end" font-size="16" fill="#2a2a2a">293.0</text>
<line x1="927.5" y1="235.35" x2="932.1" y2="235.35" stroke="#303030" stroke-width="2"/>
<line x1="1319.5" y1="235.35" x2="1314.9" y2="235.35" stroke="#303030" stroke-width="2"/>
<line x1="927.5" y1="204.80" x2="936.8" y2="204.80" stroke="#303030" stroke-width="2"/>
<line x1="1319.5" y1="204.80" x2="1310.2" y2="204.80" stroke="#303030" stroke-width="2"/>
<text x="917.6" y="209.90" text-anchor="end" font-size="16" fill="#2a2a2a">293.5</text>
<line x1="927.5" y1="174.25" x2="932.1" y2="174.25" stroke="#303030" stroke-width="2"/>
<line x1="1319.5" y1="174.25" x2="1314.9" y2="174.25" stroke="#303030" stroke-width="2"/>
<line x1="927.5" y1="143.70" x2="936.8" y2="143.70" stroke="#303030" stroke-width="2"/>
<line x1="1319.5" y1="143.70" x2="1310.2" y2="143.70" stroke="#303030" stroke-width="2"/>
<text x="917.6" y="148.80" text-anchor="end" font-size="16" fill="#2a2a2a">294.0</text>
<line x1="927.5" y1="113.15" x2="932.1" y2="113.15" stroke="#303030" stroke-width="2"/>
<line x1="1319.5" y1="113.15" x2="1314.9" y2="113.15" stroke="#303030" stroke-width="2"/>
<line x1="927.5" y1="82.60" x2="936.8" y2="82.60" stroke="#303030" stroke-width="2"/>
<line x1="1319.5" y1="82.60" x2="1310.2" y2="82.60" stroke="#303030" stroke-width="2"/>
<text x="917.6" y="87.70" text-anchor="end" font-size="16" fill="#2a2a2a">294.5</text>
<line x1="927.5" y1="52.05" x2="932.1" y2="52.05" stroke="#303030" stroke-width="2"/>
<line x1="1319.5" y1="52.05" x2="1314.9" y2="52.05" stroke="#303030" stroke-width="2"/>
<line x1="927.5" y1="21.50" x2="936.8" y2="21.50" stroke="#303030" stroke-width="2"/>
<line x1="1319.5" y1="21.50" x2="1310.2" y2="21.50" stroke="#303030" stroke-width="2"/>
<text x="917.6" y="26.60" text-anchor="end" font-size="16" fill="#2a2a2a">295.0</text>
<line x1="1025.50" y1="388.1" x2="1025.50" y2="379.1" stroke="#303030" stroke-width="2"/>
<line x1="1025.50" y1="21.5" x2="1025.50" y2="30.5" stroke="#303030" stroke-width="2"/>
<line x1="1123.50" y1="388.1" x2="1123.50" y2="379.1" stroke="#303030" stroke-width="2"/>
<line x1="1123.50" y1="21.5" x2="1123.50" y2="30.5" stroke="#303030" stroke-width="2"/>
<line x1="1221.50" y1="388.1" x2="1221.50" y2="379.1" stroke="#303030" stroke-width="2"/>
<line x1="1221.50" y1="21.5" x2="1221.50" y2="30.5" stroke="#303030" stroke-width="2"/>
<text x="927.50" y="410.9" text-anchor="middle" font-size="16" fill="#2a2a2a">45</text>
<text x="1025.50" y="410.9" text-anchor="middle" font-size="16" fill="#2a2a2a">50</text>
<text x="1123.50" y="410.9" text-anchor="middle" font-size="16" fill="#2a2a2a">55</text>
<text x="1221.50" y="410.9" text-anchor="middle" font-size="16" fill="#2a2a2a">60</text>
<text x="1319.50" y="410.9" text-anchor="middle" font-size="16" fill="#2a2a2a">65</text>
<rect x="927.5" y="21.5" width="392.0" height="366.6" fill="none" stroke="#303030" stroke-width="2.2"/>
<path d="M1062.2 134.2L1068.9 140.9M1062.2 140.9L1068.9 134.2M1087.7 131.7L1094.3 138.3M1087.7 138.3L1094.3 131.7M1111.7 143.7L1118.3 150.3M1111.7 150.3L1118.3 143.7M1111.7 148.7L1118.3 155.3M1111.7 155.3L1118.3 148.7M1130.7 130.2L1137.3 136.9M1130.7 136.9L1137.3 130.2M1047.7 161.1L1054.3 167.8M1047.7 167.8L1054.3 161.1M1084.7 165.7L1091.3 172.3M1084.7 172.3L1091.3 165.7M1112.7 172.7L1119.3 179.3M1112.7 179.3L1119.3 172.7M1063.7 178.7L1070.3 185.3M1063.7 185.3L1070.3 178.7M1045.7 179.7L1052.3 186.3M1045.7 186.3L1052.3 179.7M1032.7 182.2L1039.3 188.9M1032.7 188.9L1039.3 182.2M1106.7 179.7L1113.3 186.3M1106.7 186.3L1113.3 179.7M1171.7 132.2L1178.3 138.9M1171.7 138.9L1178.3 132.2M1190.7 153.7L1197.3 160.3M1190.7 160.3L1197.3 153.7M1161.1 158.7L1167.8 165.3M1161.1 165.3L1167.8 158.7M1142.7 164.7L1149.3 171.3M1142.7 171.3L1149.3 164.7M1173.7 163.7L1180.3 170.3M1173.7 170.3L1180.3 163.7M1139.7 175.7L1146.3 182.3M1139.7 182.3L1146.3 175.7M1145.7 182.2L1152.3 188.9M1145.7 188.9L1152.3 182.2M1026.7 187.7L1033.3 194.3M1026.7 194.3L1033.3 187.7M1059.7 186.7L1066.3 193.3M1059.7 193.3L1066.3 186.7M1088.7 188.7L1095.3 195.3M1088.7 195.3L1095.3 188.7M1095.7 189.7L1102.3 196.3M1095.7 196.3L1102.3 189.7M1098.7 192.7L1105.3 199.3M1098.7 199.3L1105.3 192.7M1049.7 200.7L1056.3 207.3M1049.7 207.3L1056.3 200.7M1028.7 206.7L1035.3 213.3M1028.7 213.3L1035.3 206.7M1018.6 213.7L1025.3 220.3M1018.6 220.3L1025.3 213.7M1026.7 220.7L1033.3 227.3M1026.7 227.3L1033.3 220.7M1047.7 223.1L1054.3 229.8M1047.7 229.8L1054.3 223.1M1110.7 210.7L1117.3 217.3M1110.7 217.3L1117.3 210.7M1115.7 207.7L1122.3 214.3M1115.7 214.3L1122.3 207.7M1120.7 214.7L1127.3 221.3M1120.7 221.3L1127.3 214.7M1122.7 219.7L1129.3 226.3M1122.7 226.3L1129.3 219.7M1052.7 237.7L1059.3 244.3M1052.7 244.3L1059.3 237.7M1036.7 245.7L1043.3 252.3M1036.7 252.3L1043.3 245.7M1043.7 248.7L1050.3 255.3M1043.7 255.3L1050.3 248.7M1060.7 247.7L1067.3 254.3M1060.7 254.3L1067.3 247.7M1026.7 248.7L1033.3 255.3M1026.7 255.3L1033.3 248.7M1029.7 253.7L1036.3 260.4M1029.7 260.4L1036.3 253.7M1037.7 262.6L1044.3 269.4M1037.7 269.4L1044.3 262.6M1042.7 265.6L1049.3 272.4M1042.7 272.4L1049.3 265.6M1090.7 265.6L1097.3 272.4M1090.7 272.4L1097.3 265.6M1104.7 259.6L1111.3 266.4M1104.7 266.4L1111.3 259.6M1114.7 236.7L1121.3 243.3M1114.7 243.3L1121.3 236.7M1112.7 243.7L1119.3 250.3M1112.7 250.3L1119.3 243.7M1117.7 254.7L1124.3 261.4M1117.7 261.4L1124.3 254.7M1046.7 271.6L1053.3 278.4M1046.7 278.4L1053.3 271.6M1057.7 271.6L1064.3 278.4M1057.7 278.4L1064.3 271.6M1122.7 226.7L1129.3 233.3M1122.7 233.3L1129.3 226.7M1126.7 229.7L1133.3 236.3M1126.7 236.3L1133.3 229.7M1124.7 236.7L1131.3 243.3M1124.7 243.3L1131.3 236.7M1128.7 242.7L1135.3 249.3M1128.7 249.3L1135.3 242.7M1130.7 248.7L1137.3 255.3M1130.7 255.3L1137.3 248.7M1124.7 260.6L1131.3 267.4M1124.7 267.4L1131.3 260.6M1161.7 192.7L1168.3 199.3M1161.7 199.3L1168.3 192.7M1188.2 185.1L1194.9 191.8M1188.2 191.8L1194.9 185.1M1138.7 192.7L1145.3 199.3M1138.7 199.3L1145.3 192.7M1148.7 202.7L1155.3 209.3M1148.7 209.3L1155.3 202.7M1152.7 209.7L1159.3 216.3M1152.7 216.3L1159.3 209.7M1156.7 211.7L1163.3 218.3M1156.7 218.3L1163.3 211.7M1146.7 213.7L1153.3 220.3M1146.7 220.3L1153.3 213.7M1149.7 218.7L1156.3 225.3M1149.7 225.3L1156.3 218.7M1141.7 216.7L1148.3 223.3M1141.7 223.3L1148.3 216.7M1138.7 223.7L1145.3 230.3M1138.7 230.3L1145.3 223.7M1138.7 230.7L1145.3 237.3M1138.7 237.3L1145.3 230.7M1152.7 230.7L1159.3 237.3M1152.7 237.3L1159.3 230.7M1164.7 223.7L1171.3 230.3M1164.7 230.3L1171.3 223.7M1169.7 228.7L1176.3 235.3M1169.7 235.3L1176.3 228.7M1171.7 231.7L1178.3 238.3M1171.7 238.3L1178.3 231.7M1164.7 234.7L1171.3 241.3M1164.7 241.3L1171.3 234.7M1198.7 233.7L1205.3 240.3M1198.7 240.3L1205.3 233.7M1202.7 233.7L1209.3 240.3M1202.7 240.3L1209.3 233.7M1202.7 248.7L1209.3 255.3M1202.7 255.3L1209.3 248.7M1124.7 240.7L1131.3 247.3M1124.7 247.3L1131.3 240.7M1138.7 236.7L1145.3 243.3M1138.7 243.3L1145.3 236.7M1144.7 240.7L1151.3 247.3M1144.7 247.3L1151.3 240.7M1149.7 242.7L1156.3 249.3M1149.7 249.3L1156.3 242.7M1156.7 240.7L1163.3 247.3M1156.7 247.3L1163.3 240.7M1160.7 242.7L1167.3 249.3M1160.7 249.3L1167.3 242.7M1166.7 238.7L1173.3 245.3M1166.7 245.3L1173.3 238.7M1172.7 246.7L1179.3 253.3M1172.7 253.3L1179.3 246.7M1174.7 249.7L1181.3 256.4M1174.7 256.4L1181.3 249.7M1162.7 248.7L1169.3 255.3M1162.7 255.3L1169.3 248.7M1128.7 246.7L1135.3 253.3M1128.7 253.3L1135.3 246.7M1136.7 252.7L1143.3 259.4M1136.7 259.4L1143.3 252.7M1119.7 248.7L1126.3 255.3M1119.7 255.3L1126.3 248.7M1122.7 258.6L1129.3 265.4M1122.7 265.4L1129.3 258.6M1128.7 256.6L1135.3 263.4M1128.7 263.4L1135.3 256.6M1140.7 256.6L1147.3 263.4M1140.7 263.4L1147.3 256.6M1144.7 260.6L1151.3 267.4M1144.7 267.4L1151.3 260.6M1152.7 256.6L1159.3 263.4M1152.7 263.4L1159.3 256.6M1156.7 258.6L1163.3 265.4M1156.7 265.4L1163.3 258.6M1122.7 262.6L1129.3 269.4M1122.7 269.4L1129.3 262.6M1130.7 264.6L1137.3 271.4M1130.7 271.4L1137.3 264.6M1136.7 263.6L1143.3 270.4M1136.7 270.4L1143.3 263.6M1144.7 265.6L1151.3 272.4M1144.7 272.4L1151.3 265.6M1148.7 268.6L1155.3 275.4M1148.7 275.4L1155.3 268.6M1132.7 270.6L1139.3 277.4M1132.7 277.4L1139.3 270.6M1140.7 270.6L1147.3 277.4M1140.7 277.4L1147.3 270.6M1156.7 270.6L1163.3 277.4M1156.7 277.4L1163.3 270.6M1140.7 262.6L1147.3 269.4M1140.7 269.4L1147.3 262.6M1136.7 268.6L1143.3 275.4M1136.7 275.4L1143.3 268.6M1154.7 272.6L1161.3 279.4M1154.7 279.4L1161.3 272.6M1138.7 276.6L1145.3 283.4M1138.7 283.4L1145.3 276.6M1144.7 278.6L1151.3 285.4M1144.7 285.4L1151.3 278.6M1148.7 283.6L1155.3 290.4M1148.7 290.4L1155.3 283.6M1139.7 285.6L1146.3 292.4M1139.7 292.4L1146.3 285.6M1143.7 286.6L1150.3 293.4M1143.7 293.4L1150.3 286.6M1149.7 274.6L1156.3 281.4M1149.7 281.4L1156.3 274.6M1142.7 258.6L1149.3 265.4M1142.7 265.4L1149.3 258.6M1050.7 274.6L1057.3 281.4M1050.7 281.4L1057.3 274.6M1049.7 279.6L1056.3 286.4M1049.7 286.4L1056.3 279.6M1053.7 278.6L1060.3 285.4M1053.7 285.4L1060.3 278.6M1050.7 283.6L1057.3 290.4M1050.7 290.4L1057.3 283.6M1054.7 283.6L1061.3 290.4M1054.7 290.4L1061.3 283.6M1071.7 286.6L1078.3 293.4M1071.7 293.4L1078.3 286.6M1064.7 298.6L1071.3 305.4M1064.7 305.4L1071.3 298.6M1043.7 306.6L1050.3 313.4M1043.7 313.4L1050.3 306.6M1050.7 306.6L1057.3 313.4M1050.7 313.4L1057.3 306.6M1042.2 335.6L1048.9 342.4M1042.2 342.4L1048.9 335.6M1053.7 335.6L1060.3 342.4M1053.7 342.4L1060.3 335.6M1062.7 355.0L1069.3 361.8M1062.7 361.8L1069.3 355.0M1124.7 246.7L1131.3 253.3M1124.7 253.3L1131.3 246.7M1128.7 252.7L1135.3 259.4M1128.7 259.4L1135.3 252.7M1134.7 258.6L1141.3 265.4M1134.7 265.4L1141.3 258.6M1138.7 254.7L1145.3 261.4M1138.7 261.4L1145.3 254.7M1142.7 248.7L1149.3 255.3M1142.7 255.3L1149.3 248.7M1146.7 252.7L1153.3 259.4M1146.7 259.4L1153.3 252.7M1132.7 243.7L1139.3 250.3M1132.7 250.3L1139.3 243.7M1136.7 246.7L1143.3 253.3M1136.7 253.3L1143.3 246.7M1140.7 242.7L1147.3 249.3M1140.7 249.3L1147.3 242.7M1127.7 238.7L1134.3 245.3M1127.7 245.3L1134.3 238.7M1146.7 274.6L1153.3 281.4M1146.7 281.4L1153.3 274.6M1142.7 280.6L1149.3 287.4M1142.7 287.4L1149.3 280.6M1150.7 264.6L1157.3 271.4M1150.7 271.4L1157.3 264.6M1134.7 266.6L1141.3 273.4M1134.7 273.4L1141.3 266.6" fill="none" stroke="#767676" stroke-width="1.05"/>
<path d="M1098.9 100.5L1105.9 107.5M1098.9 107.5L1105.9 100.5M1098.9 104.0L1105.9 104.0M1102.4 100.5L1102.4 107.5M1103.5 106.5L1110.5 113.5M1103.5 113.5L1110.5 106.5M1103.5 110.0L1110.5 110.0M1107.0 106.5L1107.0 113.5M1080.1 117.5L1087.1 124.5M1080.1 124.5L1087.1 117.5M1080.1 121.0L1087.1 121.0M1083.6 117.5L1083.6 124.5M1092.9 123.5L1099.9 130.5M1092.9 130.5L1099.9 123.5M1092.9 127.0L1099.9 127.0M1096.4 123.5L1096.4 130.5M1087.5 142.5L1094.5 149.5M1087.5 149.5L1094.5 142.5M1087.5 146.0L1094.5 146.0M1091.0 142.5L1091.0 149.5M1092.1 139.5L1099.1 146.5M1092.1 146.5L1099.1 139.5M1092.1 143.0L1099.1 143.0M1095.6 139.5L1095.6 146.5M1072.1 152.1L1079.1 159.1M1072.1 159.1L1079.1 152.1M1072.1 155.6L1079.1 155.6M1075.6 152.1L1075.6 159.1M1124.5 120.1L1131.5 127.1M1124.5 127.1L1131.5 120.1M1124.5 123.6L1131.5 123.6M1128.0 120.1L1128.0 127.1M1130.5 111.5L1137.5 118.5M1130.5 118.5L1137.5 111.5M1130.5 115.0L1137.5 115.0M1134.0 111.5L1134.0 118.5M1120.9 130.1L1127.9 137.1M1120.9 137.1L1127.9 130.1M1120.9 133.6L1127.9 133.6M1124.4 130.1L1124.4 137.1M1120.9 149.5L1127.9 156.5M1120.9 156.5L1127.9 149.5M1120.9 153.0L1127.9 153.0M1124.4 149.5L1124.4 156.5M1124.1 154.5L1131.1 161.5M1124.1 161.5L1131.1 154.5M1124.1 158.0L1131.1 158.0M1127.6 154.5L1127.6 161.5M1105.5 163.5L1112.5 170.5M1105.5 170.5L1112.5 163.5M1105.5 167.0L1112.5 167.0M1109.0 163.5L1109.0 170.5M1108.5 167.5L1115.5 174.5M1108.5 174.5L1115.5 167.5M1108.5 171.0L1115.5 171.0M1112.0 167.5L1112.0 174.5M1117.5 166.5L1124.5 173.5M1117.5 173.5L1124.5 166.5M1117.5 170.0L1124.5 170.0M1121.0 166.5L1121.0 173.5M1082.5 174.5L1089.5 181.5M1082.5 181.5L1089.5 174.5M1082.5 178.0L1089.5 178.0M1086.0 174.5L1086.0 181.5M1088.1 176.5L1095.1 183.5M1088.1 183.5L1095.1 176.5M1088.1 180.0L1095.1 180.0M1091.6 176.5L1091.6 183.5M1110.5 180.5L1117.5 187.5M1110.5 187.5L1117.5 180.5M1110.5 184.0L1117.5 184.0M1114.0 180.5L1114.0 187.5M1160.9 96.9L1167.9 103.9M1160.9 103.9L1167.9 96.9M1160.9 100.4L1167.9 100.4M1164.4 96.9L1164.4 103.9M1160.9 117.5L1167.9 124.5M1160.9 124.5L1167.9 117.5M1160.9 121.0L1167.9 121.0M1164.4 117.5L1164.4 124.5M1174.5 111.5L1181.5 118.5M1174.5 118.5L1181.5 111.5M1174.5 115.0L1181.5 115.0M1178.0 111.5L1178.0 118.5M1178.9 116.5L1185.9 123.5M1178.9 123.5L1185.9 116.5M1178.9 120.0L1185.9 120.0M1182.4 116.5L1182.4 123.5M1196.1 101.5L1203.1 108.5M1196.1 108.5L1203.1 101.5M1196.1 105.0L1203.1 105.0M1199.6 101.5L1199.6 108.5M1196.1 106.5L1203.1 113.5M1196.1 113.5L1203.1 106.5M1196.1 110.0L1203.1 110.0M1199.6 106.5L1199.6 113.5M1208.9 93.5L1215.9 100.5M1208.9 100.5L1215.9 93.5M1208.9 97.0L1215.9 97.0M1212.4 93.5L1212.4 100.5M1231.5 89.5L1238.5 96.5M1231.5 96.5L1238.5 89.5M1231.5 93.0L1238.5 93.0M1235.0 89.5L1235.0 96.5M1237.5 95.5L1244.5 102.5M1237.5 102.5L1244.5 95.5M1237.5 99.0L1244.5 99.0M1241.0 95.5L1241.0 102.5M1228.5 106.5L1235.5 113.5M1228.5 113.5L1235.5 106.5M1228.5 110.0L1235.5 110.0M1232.0 106.5L1232.0 113.5M1231.5 109.5L1238.5 116.5M1231.5 116.5L1238.5 109.5M1231.5 113.0L1238.5 113.0M1235.0 109.5L1235.0 116.5M1218.5 112.5L1225.5 119.5M1218.5 119.5L1225.5 112.5M1218.5 116.0L1225.5 116.0M1222.0 112.5L1222.0 119.5M1220.5 115.5L1227.5 122.5M1220.5 122.5L1227.5 115.5M1220.5 119.0L1227.5 119.0M1224.0 115.5L1224.0 122.5M1246.5 103.5L1253.5 110.5M1246.5 110.5L1253.5 103.5M1246.5 107.0L1253.5 107.0M1250.0 103.5L1250.0 110.5M1248.5 112.5L1255.5 119.5M1248.5 119.5L1255.5 112.5M1248.5 116.0L1255.5 116.0M1252.0 112.5L1252.0 119.5M1252.5 116.5L1259.5 123.5M1252.5 123.5L1259.5 116.5M1252.5 120.0L1259.5 120.0M1256.0 116.5L1256.0 123.5M1212.5 123.5L1219.5 130.5M1212.5 130.5L1219.5 123.5M1212.5 127.0L1219.5 127.0M1216.0 123.5L1216.0 130.5M1216.5 129.5L1223.5 136.5M1216.5 136.5L1223.5 129.5M1216.5 133.0L1223.5 133.0M1220.0 129.5L1220.0 136.5M1226.5 129.5L1233.5 136.5M1226.5 136.5L1233.5 129.5M1226.5 133.0L1233.5 133.0M1230.0 129.5L1230.0 136.5M1237.5 123.5L1244.5 130.5M1237.5 130.5L1244.5 123.5M1237.5 127.0L1244.5 127.0M1241.0 123.5L1241.0 130.5M1209.5 135.5L1216.5 142.5M1209.5 142.5L1216.5 135.5M1209.5 139.0L1216.5 139.0M1213.0 135.5L1213.0 142.5M1180.5 159.5L1187.5 166.5M1180.5 166.5L1187.5 159.5M1180.5 163.0L1187.5 163.0M1184.0 159.5L1184.0 166.5M1258.4 64.0L1265.4 71.0M1258.4 71.0L1265.4 64.0M1258.4 67.5L1265.4 67.5M1261.9 64.0L1261.9 71.0M1300.0 76.2L1307.0 83.2M1300.0 83.2L1307.0 76.2M1300.0 79.7L1307.0 79.7M1303.5 76.2L1303.5 83.2M1248.5 84.5L1255.5 91.5M1248.5 91.5L1255.5 84.5M1248.5 88.0L1255.5 88.0M1252.0 84.5L1252.0 91.5M1263.1 89.9L1270.1 96.9M1263.1 96.9L1270.1 89.9M1263.1 93.4L1270.1 93.4M1266.6 89.9L1266.6 96.9M1299.2 98.1L1306.2 105.1M1299.2 105.1L1306.2 98.1M1299.2 101.6L1306.2 101.6M1302.8 98.1L1302.8 105.1M1197.5 104.3L1204.5 111.3M1197.5 111.3L1204.5 104.3M1197.5 107.8L1204.5 107.8M1201.0 104.3L1201.0 111.3M1256.5 107.1L1263.5 114.1M1256.5 114.1L1263.5 107.1M1256.5 110.6L1263.5 110.6M1260.0 107.1L1260.0 114.1M1275.2 106.2L1282.2 113.2M1275.2 113.2L1282.2 106.2M1275.2 109.7L1282.2 109.7M1278.8 106.2L1278.8 113.2M1286.5 109.0L1293.5 116.0M1286.5 116.0L1293.5 109.0M1286.5 112.5L1293.5 112.5M1290.0 109.0L1290.0 116.0M1279.0 111.8L1286.0 118.8M1279.0 118.8L1286.0 111.8M1279.0 115.3L1286.0 115.3M1282.5 111.8L1282.5 118.8M1294.0 114.5L1301.0 121.5M1294.0 121.5L1301.0 114.5M1294.0 118.0L1301.0 118.0M1297.5 114.5L1297.5 121.5M1277.1 116.5L1284.1 123.5M1277.1 123.5L1284.1 116.5M1277.1 120.0L1284.1 120.0M1280.6 116.5L1280.6 123.5M1266.8 115.5L1273.8 122.5M1266.8 122.5L1273.8 115.5M1266.8 119.0L1273.8 119.0M1270.3 115.5L1270.3 122.5M1249.0 115.5L1256.0 122.5M1249.0 122.5L1256.0 115.5M1249.0 119.0L1256.0 119.0M1252.5 115.5L1252.5 122.5M1252.5 119.3L1259.5 126.3M1252.5 126.3L1259.5 119.3M1252.5 122.8L1259.5 122.8M1256.0 119.3L1256.0 126.3M1258.5 116.5L1265.5 123.5M1258.5 123.5L1265.5 116.5M1258.5 120.0L1265.5 120.0M1262.0 116.5L1262.0 123.5M1261.2 121.2L1268.2 128.2M1261.2 128.2L1268.2 121.2M1261.2 124.7L1268.2 124.7M1264.7 121.2L1264.7 128.2M1247.1 122.1L1254.1 129.1M1247.1 129.1L1254.1 122.1M1247.1 125.6L1254.1 125.6M1250.6 122.1L1250.6 129.1M1300.5 120.2L1307.5 127.2M1300.5 127.2L1307.5 120.2M1300.5 123.8L1307.5 123.8M1304.0 120.2L1304.0 127.2M1232.1 126.8L1239.1 133.8M1232.1 133.8L1239.1 126.8M1232.1 130.3L1239.1 130.3M1235.6 126.8L1235.6 133.8M1241.5 127.8L1248.5 134.8M1241.5 134.8L1248.5 127.8M1241.5 131.2L1248.5 131.2M1245.0 127.8L1245.0 134.8M1247.1 126.8L1254.1 133.8M1247.1 133.8L1254.1 126.8M1247.1 130.3L1254.1 130.3M1250.6 126.8L1250.6 133.8M1254.5 125.9L1261.5 132.9M1254.5 132.9L1261.5 125.9M1254.5 129.4L1261.5 129.4M1258.0 125.9L1258.0 132.9M1261.2 125.9L1268.2 132.9M1261.2 132.9L1268.2 125.9M1261.2 129.4L1268.2 129.4M1264.7 125.9L1264.7 132.9M1264.9 128.7L1271.9 135.7M1264.9 135.7L1271.9 128.7M1264.9 132.2L1271.9 132.2M1268.4 128.7L1268.4 135.7M1280.9 127.8L1287.9 134.8M1280.9 134.8L1287.9 127.8M1280.9 131.2L1287.9 131.2M1284.4 127.8L1284.4 134.8M1236.8 133.4L1243.8 140.4M1236.8 140.4L1243.8 133.4M1236.8 136.9L1243.8 136.9M1240.3 133.4L1240.3 140.4M1252.5 132.5L1259.5 139.5M1252.5 139.5L1259.5 132.5M1252.5 136.0L1259.5 136.0M1256.0 132.5L1256.0 139.5M1288.4 131.5L1295.4 138.5M1288.4 138.5L1295.4 131.5M1288.4 135.0L1295.4 135.0M1291.9 131.5L1291.9 138.5M1234.0 139.0L1241.0 146.0M1234.0 146.0L1241.0 139.0M1234.0 142.5L1241.0 142.5M1237.5 139.0L1237.5 146.0M1241.5 140.9L1248.5 147.9M1241.5 147.9L1248.5 140.9M1241.5 144.4L1248.5 144.4M1245.0 140.9L1245.0 147.9M1247.1 142.8L1254.1 149.8M1247.1 149.8L1254.1 142.8M1247.1 146.2L1254.1 146.2M1250.6 142.8L1250.6 149.8M1256.5 139.0L1263.5 146.0M1256.5 146.0L1263.5 139.0M1256.5 142.5L1263.5 142.5M1260.0 139.0L1260.0 146.0M1262.1 142.8L1269.1 149.8M1262.1 149.8L1269.1 142.8M1262.1 146.2L1269.1 146.2M1265.6 142.8L1265.6 149.8M1266.8 142.8L1273.8 149.8M1266.8 149.8L1273.8 142.8M1266.8 146.2L1273.8 146.2M1270.3 142.8L1270.3 149.8M1280.9 138.1L1287.9 145.1M1280.9 145.1L1287.9 138.1M1280.9 141.6L1287.9 141.6M1284.4 138.1L1284.4 145.1M1279.0 143.7L1286.0 150.7M1279.0 150.7L1286.0 143.7M1279.0 147.2L1286.0 147.2M1282.5 143.7L1282.5 150.7M1219.0 143.7L1226.0 150.7M1219.0 150.7L1226.0 143.7M1219.0 147.2L1226.0 147.2M1222.5 143.7L1222.5 150.7M1225.5 147.1L1232.5 154.1M1225.5 154.1L1232.5 147.1M1225.5 150.6L1232.5 150.6M1229.0 147.1L1229.0 154.1M1241.5 145.2L1248.5 152.2M1241.5 152.2L1248.5 145.2M1241.5 148.8L1248.5 148.8M1245.0 145.2L1245.0 152.2M1277.1 146.2L1284.1 153.2M1277.1 153.2L1284.1 146.2M1277.1 149.7L1284.1 149.7M1280.6 146.2L1280.6 153.2M1207.5 150.9L1214.5 157.9M1207.5 157.9L1214.5 150.9M1207.5 154.4L1214.5 154.4M1211.0 150.9L1211.0 157.9M1204.9 155.5L1211.9 162.5M1204.9 162.5L1211.9 155.5M1204.9 159.0L1211.9 159.0M1208.4 155.5L1208.4 162.5M1212.5 158.5L1219.5 165.5M1212.5 165.5L1219.5 158.5M1212.5 162.0L1219.5 162.0M1216.0 158.5L1216.0 165.5M1220.9 152.5L1227.9 159.5M1220.9 159.5L1227.9 152.5M1220.9 156.0L1227.9 156.0M1224.4 152.5L1224.4 159.5M1230.2 153.5L1237.2 160.5M1230.2 160.5L1237.2 153.5M1230.2 157.0L1237.2 157.0M1233.8 153.5L1233.8 160.5M1237.8 150.9L1244.8 157.9M1237.8 157.9L1244.8 150.9M1237.8 154.4L1244.8 154.4M1241.2 150.9L1241.2 157.9M1245.2 149.0L1252.2 156.0M1245.2 156.0L1252.2 149.0M1245.2 152.5L1252.2 152.5M1248.8 149.0L1248.8 156.0M1223.7 160.2L1230.7 167.2M1223.7 167.2L1230.7 160.2M1223.7 163.8L1230.7 163.8M1227.2 160.2L1227.2 167.2M1234.0 158.5L1241.0 165.5M1234.0 165.5L1241.0 158.5M1234.0 162.0L1241.0 162.0M1237.5 158.5L1237.5 165.5M1241.5 157.5L1248.5 164.5M1241.5 164.5L1248.5 157.5M1241.5 161.0L1248.5 161.0M1245.0 157.5L1245.0 164.5M1245.2 162.1L1252.2 169.1M1245.2 169.1L1252.2 162.1M1245.2 165.6L1252.2 165.6M1248.8 162.1L1248.8 169.1M1250.9 158.5L1257.9 165.5M1250.9 165.5L1257.9 158.5M1250.9 162.0L1257.9 162.0M1254.4 158.5L1254.4 165.5M1256.5 155.5L1263.5 162.5M1256.5 162.5L1263.5 155.5M1256.5 159.0L1263.5 159.0M1260.0 155.5L1260.0 162.5M1263.1 158.5L1270.1 165.5M1263.1 165.5L1270.1 158.5M1263.1 162.0L1270.1 162.0M1266.6 158.5L1266.6 165.5M1265.9 163.1L1272.9 170.1M1265.9 170.1L1272.9 163.1M1265.9 166.6L1272.9 166.6M1269.4 163.1L1269.4 170.1M1252.8 164.0L1259.8 171.0M1252.8 171.0L1259.8 164.0M1252.8 167.5L1259.8 167.5M1256.2 164.0L1256.2 171.0M1243.4 166.8L1250.4 173.8M1243.4 173.8L1250.4 166.8M1243.4 170.3L1250.4 170.3M1246.9 166.8L1246.9 173.8M1256.5 166.8L1263.5 173.8M1256.5 173.8L1263.5 166.8M1256.5 170.3L1263.5 170.3M1260.0 166.8L1260.0 173.8M1260.2 171.5L1267.2 178.5M1260.2 178.5L1267.2 171.5M1260.2 175.0L1267.2 175.0M1263.8 171.5L1263.8 178.5M1249.0 170.5L1256.0 177.5M1249.0 177.5L1256.0 170.5M1249.0 174.0L1256.0 174.0M1252.5 170.5L1252.5 177.5M1245.2 174.3L1252.2 181.3M1245.2 181.3L1252.2 174.3M1245.2 177.8L1252.2 177.8M1248.8 174.3L1248.8 181.3M1253.7 176.2L1260.7 183.2M1253.7 183.2L1260.7 176.2M1253.7 179.7L1260.7 179.7M1257.2 176.2L1257.2 183.2M1262.1 173.4L1269.1 180.4M1262.1 180.4L1269.1 173.4M1262.1 176.9L1269.1 176.9M1265.6 173.4L1265.6 180.4M1252.8 179.0L1259.8 186.0M1252.8 186.0L1259.8 179.0M1252.8 182.5L1259.8 182.5M1256.2 179.0L1256.2 186.0M1085.5 177.5L1092.5 184.5M1085.5 184.5L1092.5 177.5M1085.5 181.0L1092.5 181.0M1089.0 177.5L1089.0 184.5M1096.5 184.9L1103.5 191.9M1096.5 191.9L1103.5 184.9M1096.5 188.4L1103.5 188.4M1100.0 184.9L1100.0 191.9M1115.5 188.5L1122.5 195.5M1115.5 195.5L1122.5 188.5M1115.5 192.0L1122.5 192.0M1119.0 188.5L1119.0 195.5M1123.5 187.5L1130.5 194.5M1123.5 194.5L1130.5 187.5M1123.5 191.0L1130.5 191.0M1127.0 187.5L1127.0 194.5M1128.5 189.5L1135.5 196.5M1128.5 196.5L1135.5 189.5M1128.5 193.0L1135.5 193.0M1132.0 189.5L1132.0 196.5M1121.5 196.5L1128.5 203.5M1121.5 203.5L1128.5 196.5M1121.5 200.0L1128.5 200.0M1125.0 196.5L1125.0 203.5M1115.5 201.5L1122.5 208.5M1115.5 208.5L1122.5 201.5M1115.5 205.0L1122.5 205.0M1119.0 201.5L1119.0 208.5M1131.5 199.5L1138.5 206.5M1131.5 206.5L1138.5 199.5M1131.5 203.0L1138.5 203.0M1135.0 199.5L1135.0 206.5M1131.5 219.5L1138.5 226.5M1131.5 226.5L1138.5 219.5M1131.5 223.0L1138.5 223.0M1135.0 219.5L1135.0 226.5M1119.5 224.1L1126.5 231.1M1119.5 231.1L1126.5 224.1M1119.5 227.6L1126.5 227.6M1123.0 224.1L1123.0 231.1M1100.1 228.9L1107.1 235.9M1100.1 235.9L1107.1 228.9M1100.1 232.4L1107.1 232.4M1103.6 228.9L1103.6 235.9M1096.5 258.1L1103.5 265.1M1096.5 265.1L1103.5 258.1M1096.5 261.6L1103.5 261.6M1100.0 258.1L1100.0 265.1M1124.5 252.5L1131.5 259.5M1124.5 259.5L1131.5 252.5M1124.5 256.0L1131.5 256.0M1128.0 252.5L1128.0 259.5M1139.5 196.5L1146.5 203.5M1139.5 203.5L1146.5 196.5M1139.5 200.0L1146.5 200.0M1143.0 196.5L1143.0 203.5M1140.5 206.5L1147.5 213.5M1140.5 213.5L1147.5 206.5M1140.5 210.0L1147.5 210.0M1144.0 206.5L1144.0 213.5M1134.5 274.5L1141.5 281.5M1134.5 281.5L1141.5 274.5M1134.5 278.0L1141.5 278.0M1138.0 274.5L1138.0 281.5M1184.1 83.5L1191.1 90.5M1184.1 90.5L1191.1 83.5M1184.1 87.0L1191.1 87.0M1187.6 83.5L1187.6 90.5M1215.5 132.5L1222.5 139.5M1215.5 139.5L1222.5 132.5M1215.5 136.0L1222.5 136.0M1219.0 132.5L1219.0 139.5M1227.5 132.5L1234.5 139.5M1227.5 139.5L1234.5 132.5M1227.5 136.0L1234.5 136.0M1231.0 132.5L1231.0 139.5M1240.5 135.8L1247.5 142.8M1240.5 142.8L1247.5 135.8M1240.5 139.3L1247.5 139.3M1244.0 135.8L1244.0 142.8M1247.0 133.7L1254.0 140.7M1247.0 140.7L1254.0 133.7M1247.0 137.2L1254.0 137.2M1250.5 133.7L1250.5 140.7M1210.0 152.0L1217.0 159.0M1210.0 159.0L1217.0 152.0M1210.0 155.5L1217.0 155.5M1213.5 152.0L1213.5 159.0M1217.8 147.8L1224.8 154.8M1217.8 154.8L1224.8 147.8M1217.8 151.2L1224.8 151.2M1221.3 147.8L1221.3 154.8M1229.7 149.9L1236.7 156.9M1229.7 156.9L1236.7 149.9M1229.7 153.4L1236.7 153.4M1233.2 149.9L1233.2 156.9M1234.0 153.2L1241.0 160.2M1234.0 160.2L1241.0 153.2M1234.0 156.7L1241.0 156.7M1237.5 153.2L1237.5 160.2M1238.3 146.7L1245.3 153.7M1238.3 153.7L1245.3 146.7M1238.3 150.2L1245.3 150.2M1241.8 146.7L1241.8 153.7M1242.7 149.9L1249.7 156.9M1242.7 156.9L1249.7 149.9M1242.7 153.4L1249.7 153.4M1246.2 149.9L1246.2 156.9M1252.4 147.8L1259.4 154.8M1252.4 154.8L1259.4 147.8M1252.4 151.2L1259.4 151.2M1255.9 147.8L1255.9 154.8M1256.8 148.8L1263.8 155.8M1256.8 155.8L1263.8 148.8M1256.8 152.3L1263.8 152.3M1260.3 148.8L1260.3 155.8M1218.8 155.3L1225.8 162.3M1218.8 162.3L1225.8 155.3M1218.8 158.8L1225.8 158.8M1222.3 155.3L1222.3 162.3M1224.2 162.9L1231.2 169.9M1224.2 169.9L1231.2 162.9M1224.2 166.4L1231.2 166.4M1227.8 162.9L1227.8 169.9M1228.5 156.5L1235.5 163.5M1228.5 163.5L1235.5 156.5M1228.5 160.0L1235.5 160.0M1232.0 156.5L1232.0 163.5M1237.2 158.5L1244.2 165.5M1237.2 165.5L1244.2 158.5M1237.2 162.0L1244.2 162.0M1240.8 158.5L1240.8 165.5M1239.4 161.8L1246.4 168.8M1239.4 168.8L1246.4 161.8M1239.4 165.3L1246.4 165.3M1242.9 161.8L1242.9 168.8M1244.8 157.5L1251.8 164.5M1244.8 164.5L1251.8 157.5M1244.8 161.0L1251.8 161.0M1248.3 157.5L1248.3 164.5M1260.0 160.8L1267.0 167.8M1260.0 167.8L1267.0 160.8M1260.0 164.2L1267.0 164.2M1263.5 160.8L1263.5 167.8M1247.0 166.2L1254.0 173.2M1247.0 173.2L1254.0 166.2M1247.0 169.7L1254.0 169.7M1250.5 166.2L1250.5 173.2M1253.5 167.2L1260.5 174.2M1253.5 174.2L1260.5 167.2M1253.5 170.8L1260.5 170.8M1257.0 167.2L1257.0 174.2M1262.2 167.2L1269.2 174.2M1262.2 174.2L1269.2 167.2M1262.2 170.8L1269.2 170.8M1265.7 167.2L1265.7 174.2M1257.8 172.7L1264.8 179.7M1257.8 179.7L1264.8 172.7M1257.8 176.2L1264.8 176.2M1261.3 172.7L1261.3 179.7M1248.1 177.0L1255.1 184.0M1248.1 184.0L1255.1 177.0M1248.1 180.5L1255.1 180.5M1251.6 177.0L1251.6 184.0M1259.5 176.5L1266.5 183.5M1259.5 183.5L1266.5 176.5M1259.5 180.0L1266.5 180.0M1263.0 176.5L1263.0 183.5" fill="none" stroke="#f04444" stroke-width="1.0"/>
<line x1="1022.5" y1="248.4" x2="1206.9" y2="237.4" stroke="#555" stroke-width="2.1"/>
<line x1="1075.5" y1="175.5" x2="1304.6" y2="129.3" stroke="#f03c3c" stroke-width="2.1"/>
<rect x="935.6" y="27.1" width="283.6" height="58.6" fill="#fff" stroke="#808080" stroke-width="1.6"/>
<line x1="938.5" y1="41.2" x2="983.6" y2="41.2" stroke="#4a4a4a" stroke-width="2"/>
<line x1="938.5" y1="69.2" x2="983.6" y2="69.2" stroke="#ee3434" stroke-width="2"/>
<text x="987.7" y="50.3" font-size="15.3" fill="#2a2a2a" textLength="227.6" lengthAdjust="spacingAndGlyphs" xml:space="preserve">2018  R = 0.06; y = 0.010x+292.648</text>
<text x="987.7" y="78.3" font-size="15.3" fill="#2a2a2a" textLength="223.5" lengthAdjust="spacingAndGlyphs" xml:space="preserve">2019  R = 0.33;y = 0.032x+292.043</text>
<text x="1034.9" y="428.7" font-size="18" fill="#2a2a2a">Surface O<tspan font-size="12.8" dy="4.6">3</tspan><tspan dy="-4.6"> (ppb)</tspan></text>
<text transform="translate(876.2,178.9) rotate(-90)" text-anchor="middle" font-size="20.6" fill="#2a2a2a">Temperature (K)</text>
<text x="10.3" y="465.6" font-size="27.5" fill="#000" textLength="32.2" lengthAdjust="spacingAndGlyphs">(<tspan font-weight="bold">a</tspan>)</text>
<text x="48.1" y="465.6" font-size="27.5" fill="#000" textLength="132.3" lengthAdjust="spacingAndGlyphs">Correlation</text>
<text x="186.7" y="465.6" font-size="27.5" fill="#000" textLength="23.8" lengthAdjust="spacingAndGlyphs">of</text>
<text x="215.7" y="465.6" font-size="27.5" fill="#000" textLength="84.9" lengthAdjust="spacingAndGlyphs">surface</text>
<text x="305.7" y="465.6" font-size="27.5" fill="#000" textLength="70.0" lengthAdjust="spacingAndGlyphs">ozone</text>
<text x="381.0" y="465.6" font-size="27.5" fill="#000" textLength="169.8" lengthAdjust="spacingAndGlyphs">concentrations</text>
<text x="558.2" y="465.6" font-size="27.5" fill="#000" textLength="53.7" lengthAdjust="spacingAndGlyphs">with</text>
<text x="618.1" y="465.6" font-size="27.5" fill="#000" textLength="39.5" lengthAdjust="spacingAndGlyphs">RH</text>
<text x="717.7" y="465.6" font-size="27.5" fill="#000" textLength="34.6" lengthAdjust="spacingAndGlyphs">(<tspan font-weight="bold">b</tspan>)</text>
<text x="757.4" y="465.6" font-size="27.5" fill="#000" textLength="131.9" lengthAdjust="spacingAndGlyphs">Correlation</text>
<text x="897.0" y="465.6" font-size="27.5" fill="#000" textLength="24.4" lengthAdjust="spacingAndGlyphs">of</text>
<text x="926.5" y="465.6" font-size="27.5" fill="#000" textLength="83.3" lengthAdjust="spacingAndGlyphs">surface</text>
<text x="1014.9" y="465.6" font-size="27.5" fill="#000" textLength="70.5" lengthAdjust="spacingAndGlyphs">ozone</text>
<text x="1090.8" y="465.6" font-size="27.5" fill="#000" textLength="171.2" lengthAdjust="spacingAndGlyphs">concentrations</text>
<text x="1268.9" y="465.6" font-size="27.5" fill="#000" textLength="52.4" lengthAdjust="spacingAndGlyphs">with</text>
<text x="1328.2" y="465.6" font-size="27.5" fill="#000" textLength="142.9" lengthAdjust="spacingAndGlyphs">temperature</text>
</svg>
</body></html>
